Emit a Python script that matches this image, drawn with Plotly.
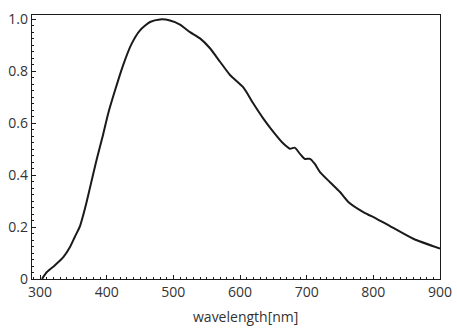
import plotly.graph_objects as go

# Spectral response
wavelength = [303, 310, 322, 335, 345, 352, 360, 365, 370, 375, 385, 395, 402, 412,
              425, 437, 450, 465, 480, 495, 510, 525, 540, 555, 570, 585, 605, 620,
              635, 650, 665, 675, 682, 690, 697, 705, 712, 720, 735, 750, 762, 785,
              805, 825, 860, 900]
response = [0.0, 0.026, 0.052, 0.084, 0.123, 0.161, 0.204, 0.248, 0.298, 0.352, 0.46,
            0.56, 0.635, 0.722, 0.826, 0.904, 0.958, 0.99, 1.0, 0.996, 0.98, 0.951,
            0.927, 0.889, 0.837, 0.786, 0.738, 0.676, 0.618, 0.567, 0.522, 0.502,
            0.506, 0.482, 0.463, 0.463, 0.444, 0.412, 0.373, 0.335, 0.298, 0.258,
            0.232, 0.204, 0.155, 0.117]

x_ticks = [300, 400, 500, 600, 700, 800, 900]
y_ticks = [0, 0.2, 0.4, 0.6, 0.8, 1.0]
y_labels = ['0', '0.2', '0.4', '0.6', '0.8', '1.0']

FONT = 'Open Sans'
INK = '#1a1a1a'
TEXT = '#333333'

W, H = 457, 328
ML, MR, MT, MB = 32, 17, 15, 49

fig = go.Figure()
fig.add_trace(go.Scatter(
    x=wavelength, y=response, mode='lines',
    line=dict(color=INK, width=2, shape='spline', smoothing=0.6),
    hoverinfo='skip'
))

axis_common = dict(
    showgrid=False, zeroline=False, showline=True, linecolor=INK, linewidth=1.2,
    mirror=True, ticks='inside', ticklen=4, tickwidth=1, tickcolor=INK,
    tickfont=dict(family=FONT, size=14, color=TEXT), automargin=False,
)

# axis title placed in pixel terms below the tick labels
w_plot = W - ML - MR
h_plot = H - MT - MB
title_x = (245 - ML) / w_plot
title_y = -(316 - (H - MB)) / h_plot

fig.update_layout(
    width=W, height=H,
    margin=dict(l=ML, r=MR, t=MT, b=MB),
    paper_bgcolor='white', plot_bgcolor='white',
    showlegend=False,
    font=dict(family=FONT, size=14, color=TEXT),
    xaxis=dict(
        range=[288, 900], tickvals=x_ticks,
        minor=dict(dtick=10, ticks='inside', ticklen=2, tickcolor=INK),
        **axis_common
    ),
    yaxis=dict(
        range=[0, 1.017], tickvals=y_ticks, ticktext=y_labels,
        minor=dict(dtick=0.025, ticks='inside', ticklen=2, tickcolor=INK),
        **axis_common
    ),
    annotations=[dict(
        text='wavelength[nm]', x=title_x, y=title_y, xref='paper', yref='paper',
        showarrow=False, font=dict(family=FONT, size=14, color=TEXT),
        xanchor='center', yanchor='middle'
    )],
)

fig.write_html(
    'out.html',
    config=dict(displayModeBar=False, staticPlot=True),
    post_script="document.body.style.margin='0';",
)
